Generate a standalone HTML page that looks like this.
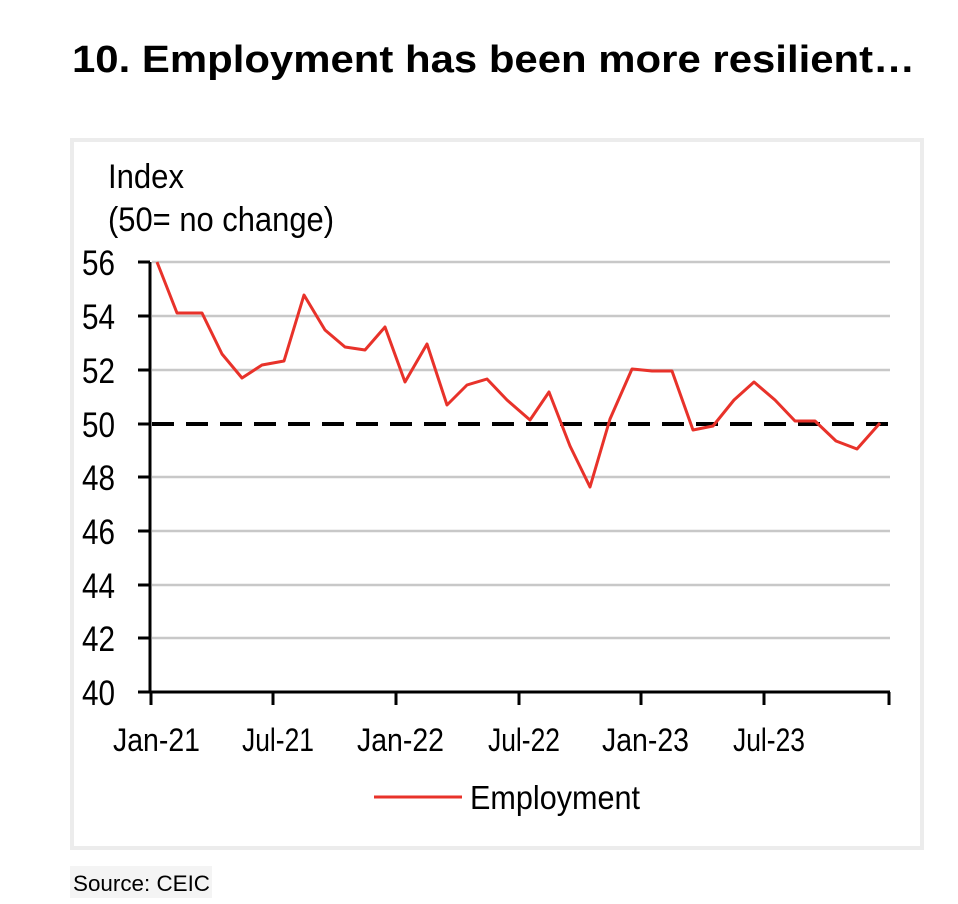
<!DOCTYPE html>
<html><head><meta charset="utf-8"><style>
body{margin:0;background:#fff;width:958px;height:904px;overflow:hidden}
svg{display:block}
text{font-family:"Liberation Sans",Arial,sans-serif}
</style></head><body>
<svg width="958" height="904" viewBox="0 0 958 904">
<text x="72" y="72" font-size="38" font-weight="bold" fill="#000" textLength="843" lengthAdjust="spacingAndGlyphs">10. Employment has been more resilient…</text>
<rect x="72" y="140" width="850" height="708" fill="none" stroke="#ececec" stroke-width="4"/>
<g font-size="34" fill="#000">
<text x="108" y="188" textLength="76" lengthAdjust="spacingAndGlyphs">Index</text>
<text x="108" y="231" textLength="226" lengthAdjust="spacingAndGlyphs">(50= no change)</text>
</g>
<g stroke="#c8c8c8" stroke-width="2.5">
<line x1="152" y1="262" x2="890" y2="262"/>
<line x1="152" y1="316" x2="890" y2="316"/>
<line x1="152" y1="370" x2="890" y2="370"/>
<line x1="152" y1="477" x2="890" y2="477"/>
<line x1="152" y1="531" x2="890" y2="531"/>
<line x1="152" y1="585" x2="890" y2="585"/>
<line x1="152" y1="638" x2="890" y2="638"/>
</g>
<g stroke="#000" stroke-width="3">
<line x1="150" y1="262" x2="150" y2="692"/>
<line x1="138" y1="692" x2="890" y2="692"/>
<line x1="138" y1="262" x2="150" y2="262"/><line x1="138" y1="316" x2="150" y2="316"/>
<line x1="138" y1="370" x2="150" y2="370"/><line x1="138" y1="424" x2="150" y2="424"/>
<line x1="138" y1="477" x2="150" y2="477"/><line x1="138" y1="531" x2="150" y2="531"/>
<line x1="138" y1="585" x2="150" y2="585"/><line x1="138" y1="638" x2="150" y2="638"/>
<line x1="151" y1="692" x2="151" y2="705"/><line x1="273" y1="692" x2="273" y2="705"/>
<line x1="396" y1="692" x2="396" y2="705"/><line x1="519" y1="692" x2="519" y2="705"/>
<line x1="641" y1="692" x2="641" y2="705"/><line x1="764" y1="692" x2="764" y2="705"/>
<line x1="889" y1="692" x2="889" y2="705"/>
</g>
<g font-size="35" fill="#000">
<text x="82" y="275" textLength="33" lengthAdjust="spacingAndGlyphs">56</text>
<text x="82" y="329" textLength="33" lengthAdjust="spacingAndGlyphs">54</text>
<text x="82" y="383" textLength="33" lengthAdjust="spacingAndGlyphs">52</text>
<text x="82" y="437" textLength="33" lengthAdjust="spacingAndGlyphs">50</text>
<text x="82" y="490" textLength="33" lengthAdjust="spacingAndGlyphs">48</text>
<text x="82" y="544" textLength="33" lengthAdjust="spacingAndGlyphs">46</text>
<text x="82" y="598" textLength="33" lengthAdjust="spacingAndGlyphs">44</text>
<text x="82" y="651" textLength="33" lengthAdjust="spacingAndGlyphs">42</text>
<text x="82" y="705" textLength="33" lengthAdjust="spacingAndGlyphs">40</text>
</g>
<g font-size="32" fill="#000">
<text x="113" y="751" textLength="87" lengthAdjust="spacingAndGlyphs">Jan-21</text>
<text x="242" y="751" textLength="72" lengthAdjust="spacingAndGlyphs">Jul-21</text>
<text x="357" y="751" textLength="87" lengthAdjust="spacingAndGlyphs">Jan-22</text>
<text x="488" y="751" textLength="72" lengthAdjust="spacingAndGlyphs">Jul-22</text>
<text x="602" y="751" textLength="87" lengthAdjust="spacingAndGlyphs">Jan-23</text>
<text x="733" y="751" textLength="72" lengthAdjust="spacingAndGlyphs">Jul-23</text>
</g>
<line x1="152" y1="424" x2="890" y2="424" stroke="#000" stroke-width="4" stroke-dasharray="22,12"/>
<polyline fill="none" stroke="#e8322a" stroke-width="3" stroke-linejoin="round" points="157,262 177,313 202,313 222,354 242,378 262,365 284,361 304,295 325,330 345,347 365,350 385,327 405,382 427,344 447,405 467,385 487,379 507,400 530,420 549,392 570,446 590,487 610,419 632,369 652,371 672,371 693,430 713,426 734,400 754,382 775,400 795,421 815,421 836,441 857,449 880,423"/>
<line x1="374" y1="797" x2="462" y2="797" stroke="#e8322a" stroke-width="3"/>
<text x="470" y="809" font-size="33" textLength="170" lengthAdjust="spacingAndGlyphs">Employment</text>
<rect x="70" y="866" width="142" height="32" fill="#f4f4f4"/>
<text x="73" y="891" font-size="22" textLength="137" lengthAdjust="spacingAndGlyphs">Source: CEIC</text>
</svg>
</body></html>
